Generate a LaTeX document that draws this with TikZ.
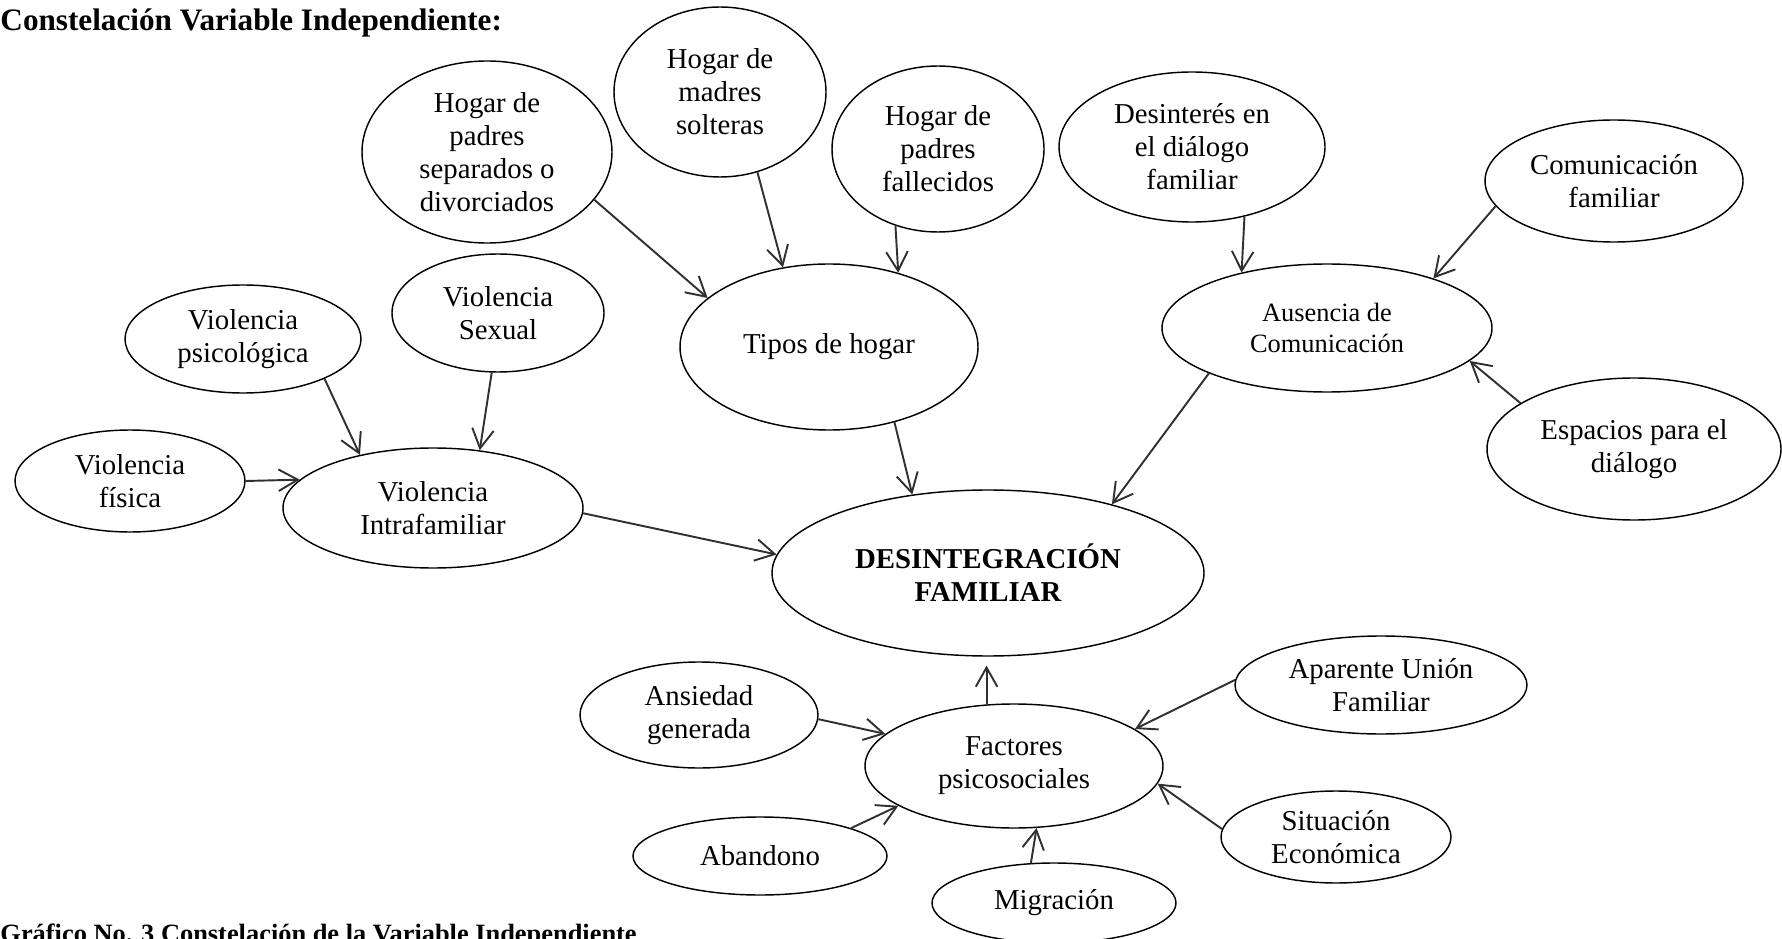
\documentclass[tikz,border=0pt]{standalone}
\usepackage{fontspec}
\setmainfont{Liberation Serif}
\usetikzlibrary{shapes.geometric,arrows.meta}
\definecolor{arrcol}{HTML}{303030}
\newcommand{\ellnode}[6]{\node[ell, minimum width=#4*0.4167pt, minimum height=#5*0.4167pt] (#1) at (#2,#3) {#6};}
\begin{document}
\begin{tikzpicture}[x=0.4167pt,y=-0.4167pt,
  ell/.style={ellipse, draw=black, line width=0.6pt, inner sep=0pt, align=center,
    font=\fontsize{12}{13.8}\selectfont},
  arr/.style={draw=arrcol, line width=0.8pt, -{Straight Barb[length=8pt,width=9pt,line width=0.8pt]}},
  ttl/.style={font=\fontsize{13}{15}\selectfont\bfseries, inner sep=0pt, anchor=base west}]
\path[use as bounding box] (0,0) rectangle (1782,939);
\clip (0,0) rectangle (1782,939);

\node[ttl] (title) at (0,31) {Constelación Variable Independiente:};
\node[ttl, font=\fontsize{11}{13}\selectfont\bfseries] (caption) at (0,942) {Gráfico No. 3 Constelación de la Variable Independiente};

% top cluster
\ellnode{sep}{487}{152}{250}{182}{Hogar de\\padres\\separados o\\divorciados}
\ellnode{mad}{720}{92}{212}{170}{Hogar de\\madres\\solteras}
\ellnode{fal}{938}{149}{212}{166}{Hogar de\\padres\\fallecidos}
\ellnode{tip}{829}{347}{298}{166}{Tipos de hogar}

% right cluster
\ellnode{des}{1192}{147}{266}{150}{Desinterés en\\el diálogo\\familiar}
\ellnode{com}{1614}{181}{258}{122}{Comunicación\\familiar}
\node[ell, font=\fontsize{11}{12.6}\selectfont, minimum width=330*0.4167pt, minimum height=128*0.4167pt] (aus) at (1327,328) {Ausencia de\\Comunicación};
\ellnode{esp}{1634}{449}{294}{142}{Espacios para el\\diálogo}

% left cluster
\ellnode{psi}{243}{339}{236}{108}{Violencia\\psicológica}
\ellnode{sex}{498}{313}{212}{118}{Violencia\\Sexual}
\ellnode{fis}{130}{481}{230}{102}{Violencia\\física}
\ellnode{vi}{433}{508}{300}{120}{Violencia\\Intrafamiliar}

% center
\ellnode{dfam}{988}{573}{432}{166}{\bfseries DESINTEGRACIÓN\\\bfseries FAMILIAR}

% bottom cluster
\ellnode{ans}{699}{715}{238}{106}{Ansiedad\\generada}
\ellnode{fac}{1014}{766}{298}{124}{Factores\\psicosociales}
\ellnode{aban}{760}{856}{254}{78}{Abandono}
\ellnode{mig}{1054}{903}{244}{80}{Migración}
\ellnode{apar}{1381}{685}{292}{98}{Aparente Unión\\Familiar}
\ellnode{sit}{1336}{837}{230}{92}{Situación\\Económica}

% connectors
\draw[arr] (sep.-24) -- (tip.158);
\draw[arr] (mad.-65) -- (tip.120);
\draw[arr] (fal.-119) -- (tip.47);
\draw[arr] (des.-53) -- (aus.147);
\draw[arr] (com.-168) -- (aus.25);
\draw[arr] (esp.158) -- (aus.-13);
\draw[arr] (aus.-159) -- (dfam.29);
\draw[arr] (tip.-49) -- (dfam.134);
\draw[arr] (psi.-26) -- (vi.144);
\draw[arr] (sex.-96) -- (vi.51);
\draw[arr] (fis.east) -- (vi.168);
\draw[arr] (vi.-2) -- (dfam.175);
\draw[arr] (ans.-2) -- (fac.166);
\draw[arr] (aban.17) -- (fac.-161);
\draw[arr, shorten >=3.7pt] (fac.114) -- (fac.114 |- dfam.south);
\draw[arr] (mig.120) -- (fac.-70);
\draw[arr] (apar.178) -- (fac.17);
\draw[arr] (sit.176) -- (fac.-7);
\end{tikzpicture}
\end{document}
